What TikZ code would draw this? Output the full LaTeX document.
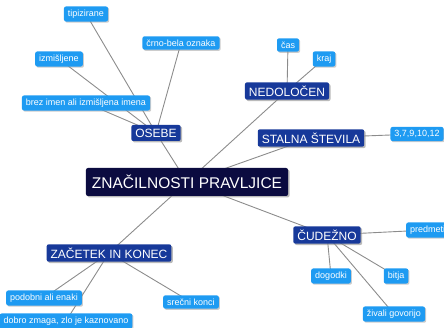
\documentclass[tikz,border=0pt]{standalone}
\usepackage{fontspec}
\setmainfont{Liberation Sans}
\usetikzlibrary{shadows,backgrounds}

\definecolor{rootblue}{HTML}{0B0B40}
\definecolor{mainblue}{HTML}{17399A}
\definecolor{leafblue}{HTML}{1E9BF2}
\definecolor{linkgray}{HTML}{8C8C8C}

\tikzset{
  root/.style={fill=rootblue, text=white, rounded corners=2pt,
    font=\fontsize{15.5}{18}\selectfont, inner xsep=6pt, minimum height=28pt,
    drop shadow={shadow xshift=1.5pt, shadow yshift=-1.5pt, fill=black!45, opacity=0.6}},
  topic/.style={fill=mainblue, text=white, rounded corners=2pt,
    font=\fontsize{12}{14}\selectfont, inner xsep=4pt, minimum height=16pt,
    drop shadow={shadow xshift=1.5pt, shadow yshift=-1.5pt, fill=black!45, opacity=0.6}},
  leaf/.style={fill=leafblue, text=white, rounded corners=2pt,
    font=\fontsize{9}{11}\selectfont, inner xsep=4pt, minimum height=13pt,
    drop shadow={shadow xshift=1.2pt, shadow yshift=-1.2pt, fill=black!40, opacity=0.5}},
  link/.style={draw=linkgray, line width=0.9pt}
}

\begin{document}
\begin{tikzpicture}[x=1pt,y=-1pt]
\useasboundingbox (0,0) rectangle (444,328);

%Centre
\node[root,
] (root) at (187,182){ZNAČILNOSTI PRAVLJICE};

%Main topics
\node[topic,
] (osebe) at (156,133){OSEBE};
\node[topic,
] (nedolocen) at (287,91){NEDOLOČEN};
\node[topic,
] (stalna) at (311,138){STALNA ŠTEVILA};
\node[topic,
] (zacetek) at (109,253){ZAČETEK IN KONEC};
\node[topic,
] (cudezno) at (327,235){ČUDEŽNO};

%Osebe
\node[leaf,
] (tipizirane) at (86,14){tipizirane};
\node[leaf,
] (crnobela) at (181,43){črno-bela oznaka};
\node[leaf,
] (izmisljene) at (59,59){izmišljene};
\node[leaf,
] (brezimen) at (86,103){brez imen ali izmišljena imena};

%Nedolocen
\node[leaf,
] (cas) at (288,45){čas};
\node[leaf,
] (kraj) at (324,59){kraj};

%Stalna stevila
\node[leaf,
] (stevila) at (417,134){3,7,9,10,12};

%Zacetek in konec
\node[leaf,
] (podobni) at (44,298){podobni ali enaki};
\node[leaf,
] (dobro) at (66,321){dobro zmaga, zlo je kaznovano};
\node[leaf,
] (srecni) at (191,302){srečni konci};

%Cudezno
\node[leaf,anchor=west,
] (predmeti) at (406,230){predmeti};
\node[leaf,
] (dogodki) at (331,276){dogodki};
\node[leaf,
] (bitja) at (396,276){bitja};
\node[leaf,
] (zivali) at (394,314){živali govorijo};

%Links, behind the boxes
\begin{pgfonlayer}{background}
\foreach \a/\b in {root/osebe, root/nedolocen, root/stalna, root/zacetek, root/cudezno,
  osebe/tipizirane, osebe/crnobela, osebe/izmisljene, osebe/brezimen,
  nedolocen/cas, nedolocen/kraj, stalna/stevila,
  zacetek/podobni, zacetek/dobro, zacetek/srecni,
  cudezno/predmeti, cudezno/dogodki, cudezno/bitja, cudezno/zivali}
  \draw[link] (\a.center) -- (\b.center);
\end{pgfonlayer}

\end{tikzpicture}
\end{document}
